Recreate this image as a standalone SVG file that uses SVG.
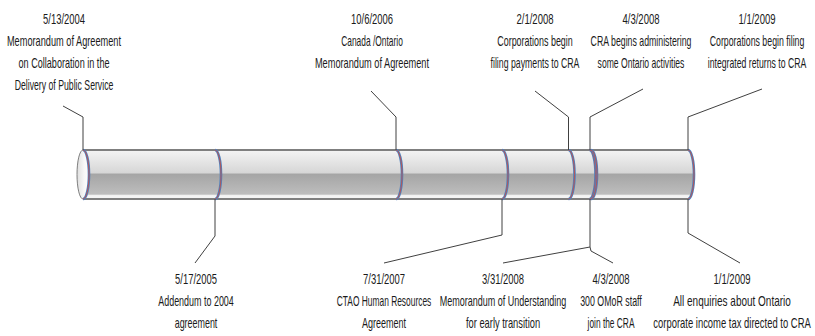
<svg xmlns="http://www.w3.org/2000/svg" width="815" height="336" viewBox="0 0 815 336">
<style>
  text { font-family: "Liberation Sans", Arial, sans-serif; font-size: 14px; fill: #1a1a1a; text-anchor: middle; }
  .conn { fill: none; stroke: #404040; stroke-width: 1; }
  .edge { fill: none; stroke: #7f7f7f; stroke-width: 2; }
  .mk-b { fill: none; stroke: #4f81bd; stroke-width: 2.6; }
  .mk-r { fill: none; stroke: #c0504d; stroke-width: 0.9; }
</style>
<defs>
  <linearGradient id="body" x1="0" y1="0" x2="0" y2="1">
    <stop offset="0" stop-color="#f4f4f4"/>
    <stop offset="0.47" stop-color="#d6d6d6"/>
    <stop offset="0.49" stop-color="#a5a5a5"/>
    <stop offset="0.90" stop-color="#bdbdbd"/>
    <stop offset="0.93" stop-color="#f4f4f4"/>
    <stop offset="0.97" stop-color="#f4f4f4"/>
    <stop offset="1" stop-color="#a0a0a0"/>
  </linearGradient>
  <linearGradient id="cap" x1="0" y1="0" x2="1" y2="0">
    <stop offset="0" stop-color="#dedede"/>
    <stop offset="0.6" stop-color="#f7f7f7"/>
    <stop offset="1" stop-color="#ffffff"/>
  </linearGradient>
  <path id="mk" d="M0,150 A6,24.5 0 0 1 0,199"/>
</defs>

<g id="tube">
  <path d="M83,150 H688 A6,24.5 0 0 1 688,199 H83 Z" fill="url(#body)"/>
  <line class="edge" x1="83" y1="150" x2="688" y2="150"/>
  <line class="edge" x1="83" y1="199" x2="688" y2="199"/>
  <ellipse cx="83" cy="174.5" rx="6" ry="24.5" fill="url(#cap)" stroke="#7f7f7f" stroke-width="1"/>
</g>

<g id="markers">
  <use href="#mk" class="mk-b" x="83"/><use href="#mk" class="mk-r" x="83"/>
  <use href="#mk" class="mk-b" x="215"/><use href="#mk" class="mk-r" x="215"/>
  <use href="#mk" class="mk-b" x="396"/><use href="#mk" class="mk-r" x="396"/>
  <use href="#mk" class="mk-b" x="502"/><use href="#mk" class="mk-r" x="502"/>
  <use href="#mk" class="mk-b" x="568.5"/><use href="#mk" class="mk-r" x="568.5"/>
  <use href="#mk" class="mk-b" x="589.5"/><use href="#mk" class="mk-r" x="589.5"/>
  <use href="#mk" class="mk-b" x="591"/><use href="#mk" class="mk-r" x="591"/>
  <use href="#mk" class="mk-b" x="688"/><use href="#mk" class="mk-r" x="688"/>
</g>

<g id="connectors">
  <polyline class="conn" points="83,150 83,117 63,106"/>
  <polyline class="conn" points="396,150 396,117 371,91"/>
  <polyline class="conn" points="568.5,150 568.5,117 535,91"/>
  <polyline class="conn" points="590,150 590,117 643,89"/>
  <polyline class="conn" points="688,150 688,117 762,89"/>
  <polyline class="conn" points="215,199 215,236 195,263"/>
  <polyline class="conn" points="502,199 502,235 384,263"/>
  <polyline class="conn" points="590,199 590,247 503,263"/>
  <polyline class="conn" points="590,247 591,251 613,263"/>
  <polyline class="conn" points="688,199 688,233 740,263"/>
</g>

<g id="e-2004-05-13" transform="translate(64,0) scale(0.7,1)">
  <text x="0" y="24" textLength="60" lengthAdjust="spacingAndGlyphs">5/13/2004</text>
  <text x="0" y="46" textLength="163" lengthAdjust="spacingAndGlyphs">Memorandum of Agreement</text>
  <text x="0" y="68" textLength="130" lengthAdjust="spacingAndGlyphs">on Collaboration in the</text>
  <text x="0" y="90" textLength="141" lengthAdjust="spacingAndGlyphs">Delivery of Public Service</text>
</g>
<g id="e-2006-10-06" transform="translate(372,0) scale(0.7,1)">
  <text x="0" y="24" textLength="60" lengthAdjust="spacingAndGlyphs">10/6/2006</text>
  <text x="0" y="46" textLength="88" lengthAdjust="spacingAndGlyphs">Canada /Ontario</text>
  <text x="0" y="68" textLength="163" lengthAdjust="spacingAndGlyphs">Memorandum of Agreement</text>
</g>
<g id="e-2008-02-01" transform="translate(535,0) scale(0.7,1)">
  <text x="0" y="24" textLength="53" lengthAdjust="spacingAndGlyphs">2/1/2008</text>
  <text x="0" y="46" textLength="108" lengthAdjust="spacingAndGlyphs">Corporations begin</text>
  <text x="0" y="68" textLength="127" lengthAdjust="spacingAndGlyphs">filing payments to CRA</text>
</g>
<g id="e-2008-04-03-a" transform="translate(641,0) scale(0.7,1)">
  <text x="0" y="24" textLength="53" lengthAdjust="spacingAndGlyphs">4/3/2008</text>
  <text x="0" y="46" textLength="144" lengthAdjust="spacingAndGlyphs">CRA begins administering</text>
  <text x="0" y="68" textLength="124" lengthAdjust="spacingAndGlyphs">some Ontario activities</text>
</g>
<g id="e-2009-01-01-a" transform="translate(757,0) scale(0.64,1)">
  <text x="0" y="24" textLength="58" lengthAdjust="spacingAndGlyphs">1/1/2009</text>
  <text x="0" y="46" textLength="148" lengthAdjust="spacingAndGlyphs">Corporations begin filing</text>
  <text x="0" y="68" textLength="154" lengthAdjust="spacingAndGlyphs">integrated returns to CRA</text>
</g>

<g id="e-2005-05-17" transform="translate(196,0) scale(0.7,1)">
  <text x="0" y="284" textLength="60" lengthAdjust="spacingAndGlyphs">5/17/2005</text>
  <text x="0" y="306" textLength="108" lengthAdjust="spacingAndGlyphs">Addendum to 2004</text>
  <text x="0" y="328" textLength="61" lengthAdjust="spacingAndGlyphs">agreement</text>
</g>
<g id="e-2007-07-31" transform="translate(384,0) scale(0.7,1)">
  <text x="0" y="284" textLength="60" lengthAdjust="spacingAndGlyphs">7/31/2007</text>
  <text x="0" y="306" textLength="135" lengthAdjust="spacingAndGlyphs">CTAO Human Resources</text>
  <text x="0" y="328" textLength="63" lengthAdjust="spacingAndGlyphs">Agreement</text>
</g>
<g id="e-2008-03-31" transform="translate(503,0) scale(0.7,1)">
  <text x="0" y="284" textLength="60" lengthAdjust="spacingAndGlyphs">3/31/2008</text>
  <text x="0" y="306" textLength="181" lengthAdjust="spacingAndGlyphs">Memorandum of Understanding</text>
  <text x="0" y="328" textLength="106" lengthAdjust="spacingAndGlyphs">for early transition</text>
</g>
<g id="e-2008-04-03-b" transform="translate(611,0) scale(0.7,1)">
  <text x="0" y="284" textLength="53" lengthAdjust="spacingAndGlyphs">4/3/2008</text>
  <text x="0" y="306" textLength="88" lengthAdjust="spacingAndGlyphs">300 OMoR staff</text>
  <text x="0" y="328" textLength="67" lengthAdjust="spacingAndGlyphs">join the CRA</text>
</g>
<g id="e-2009-01-01-b" transform="translate(732,0) scale(0.7,1)">
  <text x="0" y="284" textLength="53" lengthAdjust="spacingAndGlyphs">1/1/2009</text>
  <text x="0" y="306" textLength="168" lengthAdjust="spacingAndGlyphs">All enquiries about Ontario</text>
  <text x="0" y="328" textLength="225" lengthAdjust="spacingAndGlyphs">corporate income tax directed to CRA</text>
</g>
</svg>
